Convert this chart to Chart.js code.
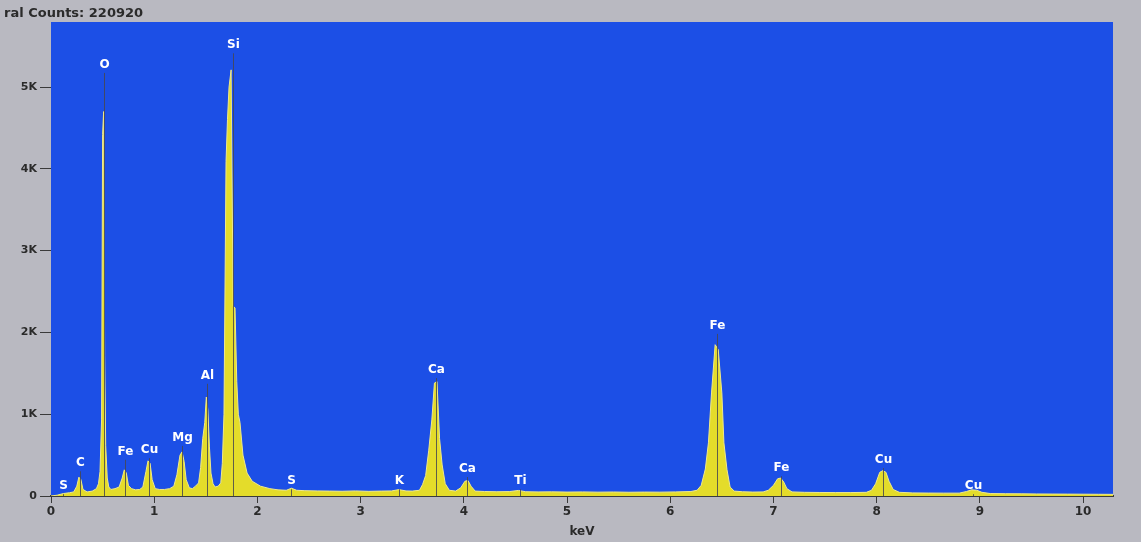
<!DOCTYPE html>
<html>
<head>
<meta charset="utf-8">
<script src="https://cdn.jsdelivr.net/npm/chart.js@4/dist/chart.umd.min.js"></script>
<style>
  html, body { margin: 0; padding: 0; background: #b9b9c1; }
  #wrap { width: 1141px; height: 542px; }
</style>
</head>
<body>
<div id="wrap"><canvas id="spec" width="1141" height="542"></canvas></div>
<script>
// spectrum: energy (keV) and counts
const energyKeV = [
  0.00, 0.06, 0.12, 0.18, 0.22, 0.25, 0.27, 0.29, 0.31, 0.35, 0.40, 0.44, 0.46, 0.475, 0.49, 0.50, 0.51, 0.52, 0.53, 0.545, 0.56, 0.58,
  0.62, 0.66, 0.69, 0.71, 0.73, 0.75, 0.78, 0.82, 0.86, 0.89, 0.92, 0.94, 0.96, 0.98, 1.01, 1.05, 1.10,
  1.15, 1.19, 1.22, 1.25, 1.27, 1.29, 1.31, 1.34, 1.37, 1.40, 1.43, 1.45, 1.47, 1.49, 1.505, 1.52, 1.535, 1.55, 1.57, 1.59,
  1.62, 1.645, 1.66, 1.676, 1.696, 1.71, 1.725, 1.745, 1.765, 1.783, 1.80, 1.815, 1.831, 1.86, 1.90, 1.95, 2.03, 2.12,
  2.20, 2.28, 2.33, 2.38, 2.46, 2.58, 2.70, 2.82, 2.95, 3.08, 3.20, 3.30, 3.37, 3.44, 3.50, 3.57,
  3.60, 3.63, 3.66, 3.69, 3.715, 3.74, 3.765, 3.79, 3.82, 3.86, 3.92, 3.97, 4.01, 4.04, 4.07, 4.11,
  4.20, 4.32, 4.44, 4.53, 4.60, 4.72, 4.85, 5.00, 5.15, 5.30, 5.45, 5.60, 5.75, 5.90, 6.05, 6.20, 6.26,
  6.30, 6.34, 6.37, 6.40, 6.435, 6.465, 6.50, 6.52, 6.55, 6.58, 6.62, 6.70, 6.80, 6.90,
  6.95, 7.00, 7.04, 7.07, 7.10, 7.13, 7.18, 7.30, 7.45, 7.60, 7.75, 7.90,
  7.95, 7.99, 8.03, 8.06, 8.09, 8.12, 8.16, 8.22, 8.35, 8.50, 8.65, 8.80, 8.87, 8.92, 8.97, 9.02, 9.10,
  9.25, 9.40, 9.55, 9.70, 9.85, 10.00, 10.15, 10.29
];
const counts = [
  0, 10, 30, 40, 50, 120, 230, 200, 80, 50, 60, 90, 150, 300, 930, 4420, 4700, 1720, 620, 220, 110, 80,
  90, 110, 220, 320, 280, 130, 90, 75, 80, 110, 300, 430, 400, 200, 90, 80, 80,
  90, 120, 260, 500, 540, 420, 200, 100, 90, 120, 160, 350, 700, 900, 1210, 1050, 600, 280, 150, 110,
  120, 160, 400, 1000, 4090, 4600, 5000, 5210, 2320, 2300, 1400, 1000, 900, 500, 280, 180, 120, 90,
  75, 70, 95, 70, 65, 62, 60, 58, 62, 57, 60, 62, 78, 62, 60, 70,
  140, 250, 560, 930, 1380, 1400, 700, 380, 150, 70, 60, 100, 180, 190, 120, 60,
  55, 52, 54, 68, 52, 50, 51, 48, 50, 47, 49, 46, 48, 47, 50, 55, 70,
  130, 330, 650, 1260, 1850, 1790, 1260, 650, 320, 110, 60, 52, 48, 50,
  70, 130, 210, 220, 170, 90, 50, 45, 43, 42, 42, 45,
  70, 150, 290, 310, 290, 180, 80, 45, 38, 36, 35, 35, 55, 75, 70, 45, 30,
  28, 27, 25, 24, 23, 22, 21, 20
];

// peak markers: element, energy (keV), label height (counts)
const peakNames = ['S', 'C', 'O', 'Fe', 'Cu', 'Mg', 'Al', 'Si', 'S', 'K', 'Ca', 'Ca', 'Ti', 'Fe', 'Fe', 'Cu', 'Cu'];
const peakKeV = [0.12, 0.28, 0.515, 0.72, 0.95, 1.27, 1.51, 1.76, 2.33, 3.37, 3.73, 4.03, 4.54, 6.45, 7.07, 8.06, 8.93];
const peakLabelAt = [120, 400, 5270, 540, 560, 710, 1470, 5510, 180, 180, 1540, 330, 180, 2080, 340, 440, 120];

// axis ticks
const yTickValues = [0, 1000, 2000, 3000, 4000, 5000];
const yTickLabels = ['0', '1K', '2K', '3K', '4K', '5K'];
const xTickValues = [0, 1, 2, 3, 4, 5, 6, 7, 8, 9, 10];
const xMaxKeV = 10.29;
const yMaxCounts = 5795;

const spectrumPoints = energyKeV.map((e, i) => ({ x: e, y: counts[i] }));

// background, plot area and top caption
const panelPlugin = {
  id: 'panel',
  beforeDraw(chart) {
    const { ctx, chartArea: a } = chart;
    ctx.save();
    ctx.fillStyle = '#b9b9c1';
    ctx.fillRect(0, 0, chart.width, chart.height);
    ctx.fillStyle = '#1c4fe6';
    ctx.fillRect(a.left, a.top, a.right - a.left, a.bottom - a.top);
    ctx.fillStyle = '#2b2b2b';
    ctx.font = 'bold 13px "DejaVu Sans"';
    ctx.textBaseline = 'alphabetic';
    ctx.fillText('ral Counts: 220920', 4, 17);
    ctx.restore();
  }
};

// element lines and labels
const peakPlugin = {
  id: 'peaks',
  afterDatasetsDraw(chart) {
    const { ctx } = chart;
    const xs = chart.scales.x, ys = chart.scales.y;
    ctx.save();
    ctx.font = 'bold 12px "DejaVu Sans"';
    ctx.textAlign = 'center';
    ctx.textBaseline = 'middle';
    peakNames.forEach((name, i) => {
      const px = Math.round(xs.getPixelForValue(peakKeV[i])) + 0.5;
      const py = ys.getPixelForValue(peakLabelAt[i]);
      ctx.strokeStyle = 'rgba(70,70,80,0.85)';
      ctx.lineWidth = 1;
      ctx.beginPath();
      ctx.moveTo(px, ys.getPixelForValue(0));
      ctx.lineTo(px, py + 8);
      ctx.stroke();
      ctx.fillStyle = '#ffffff';
      ctx.fillText(name, px, py);
    });
    ctx.restore();
  }
};

const ctx = document.getElementById('spec').getContext('2d');
const chart = new Chart(ctx, {
  type: 'line',
  data: {
    datasets: [{
      data: spectrumPoints,
      borderColor: '#efe98a',
      borderWidth: 1,
      backgroundColor: '#e4dc2a',
      fill: 'origin',
      pointRadius: 0,
      tension: 0
    }]
  },
  options: {
    responsive: false,
    animation: false,
    layout: { padding: { left: 0, right: 28, top: 22, bottom: 0 } },
    plugins: { legend: { display: false }, tooltip: { enabled: false } },
    scales: {
      x: {
        type: 'linear',
        min: 0,
        max: xMaxKeV,
        afterFit: (s) => { s.height = 46; },
        afterBuildTicks: (s) => { s.ticks = xTickValues.map(v => ({ value: v })); },
        border: { color: '#3a3a3a', width: 2 },
        grid: { drawOnChartArea: false, color: '#3a3a3a', tickLength: 7 },
        ticks: {
          color: '#2a2a2a',
          font: { family: 'DejaVu Sans', weight: 'bold', size: 12 },
          padding: 2,
          maxRotation: 0,
          autoSkip: false
        },
        title: {
          display: true,
          text: 'keV',
          color: '#2a2a2a',
          font: { family: 'DejaVu Sans', weight: 'bold', size: 12 },
          padding: { top: 0, bottom: 3 }
        }
      },
      y: {
        min: 0,
        max: yMaxCounts,
        afterFit: (s) => { s.width = 51; },
        afterBuildTicks: (s) => { s.ticks = yTickValues.map(v => ({ value: v })); },
        border: { display: false },
        grid: { drawOnChartArea: false, color: '#3a3a3a', tickLength: 11 },
        ticks: {
          color: '#2a2a2a',
          font: { family: 'DejaVu Sans', weight: 'bold', size: 11 },
          padding: 3,
          autoSkip: false,
          callback: (v) => yTickLabels[yTickValues.indexOf(v)]
        }
      }
    }
  },
  plugins: [panelPlugin, peakPlugin]
});
</script>
</body>
</html>
